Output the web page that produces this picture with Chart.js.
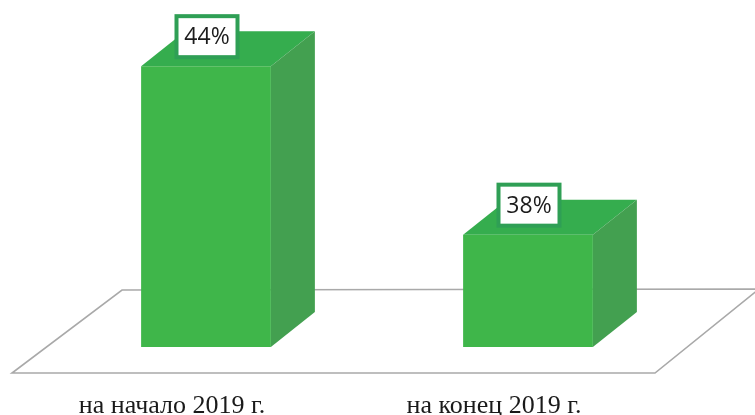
<!DOCTYPE html>
<html><head><meta charset="utf-8">
<style>html,body{margin:0;padding:0;background:#fff}canvas{display:block}</style>
<script src="https://cdn.jsdelivr.net/npm/chart.js@4"></script>
</head><body><canvas id="c" width="755" height="415"></canvas>
<script>
const categories = ["на начало 2019 г.", "на конец 2019 г."];
const values = [44, 38];
const axisMin = 34, axisMax = 46;
const depthX = 44, depthY = 35;

const box3d = {
  id: 'box3d',
  beforeDatasetsDraw(chart) {
    const ctx = chart.ctx, a = chart.chartArea, base = chart.scales.y.getPixelForValue(axisMin);
    // floor
    ctx.save();
    ctx.strokeStyle = '#a9a9a9'; ctx.lineWidth = 1.6;
    ctx.beginPath();
    ctx.moveTo(a.left - 33, base + 26);
    ctx.lineTo(a.right - 34, base + 26);
    ctx.lineTo(a.right + 70, base - 58);
    ctx.lineTo(a.left + 77, base - 57);
    ctx.closePath(); ctx.stroke();
    // depth faces
    chart.getDatasetMeta(0).data.forEach(b => {
      const l = b.x - b.width / 2, r = b.x + b.width / 2, t = b.y;
      ctx.fillStyle = '#35ad4e';
      ctx.beginPath(); ctx.moveTo(l, t); ctx.lineTo(l + depthX, t - depthY);
      ctx.lineTo(r + depthX, t - depthY); ctx.lineTo(r, t); ctx.closePath(); ctx.fill();
      ctx.fillStyle = '#43a050';
      ctx.beginPath(); ctx.moveTo(r, t); ctx.lineTo(r + depthX, t - depthY);
      ctx.lineTo(r + depthX, base - depthY); ctx.lineTo(r, base); ctx.closePath(); ctx.fill();
    });
    ctx.restore();
  },
  afterDatasetsDraw(chart) {
    const ctx = chart.ctx;
    ctx.save();
    chart.getDatasetMeta(0).data.forEach((b, i) => {
      const w = 61, h = 41, x = b.x - w / 2 + 1, y = b.y - 50;
      ctx.fillStyle = '#fff'; ctx.strokeStyle = '#2f9f55'; ctx.lineWidth = 4;
      ctx.fillRect(x, y, w, h); ctx.strokeRect(x, y, w, h);
      ctx.fillStyle = '#1c1c1c';
      ctx.font = '23px "Open Sans"';
      ctx.textAlign = 'center'; ctx.textBaseline = 'middle';
      ctx.fillText(values[i] + '%', x + w / 2, y + h / 2 + 1);
    });
    ctx.restore();
  }
};

new Chart(document.getElementById('c'), {
  type: 'bar',
  data: { labels: categories, datasets: [{ data: values, backgroundColor: '#3fb64a', borderWidth: 0,
    barPercentage: 1, categoryPercentage: 0.403 }] },
  plugins: [box3d],
  options: {
    responsive: false, animation: false,
    layout: { padding: { left: 45, right: 66, top: 10, bottom: 0 } },
    plugins: { legend: { display: false }, tooltip: { enabled: false } },
    scales: {
      y: { display: false, min: axisMin, max: axisMax },
      x: {
        afterFit(s) { s.height = 68; },
        grid: { display: false, drawTicks: false }, border: { display: false },
        ticks: { color: '#1a1a1a', font: { family: '"Liberation Serif"', size: 26 }, padding: 44, labelOffset: -34, maxRotation: 0 }
      }
    }
  }
});
</script></body></html>
